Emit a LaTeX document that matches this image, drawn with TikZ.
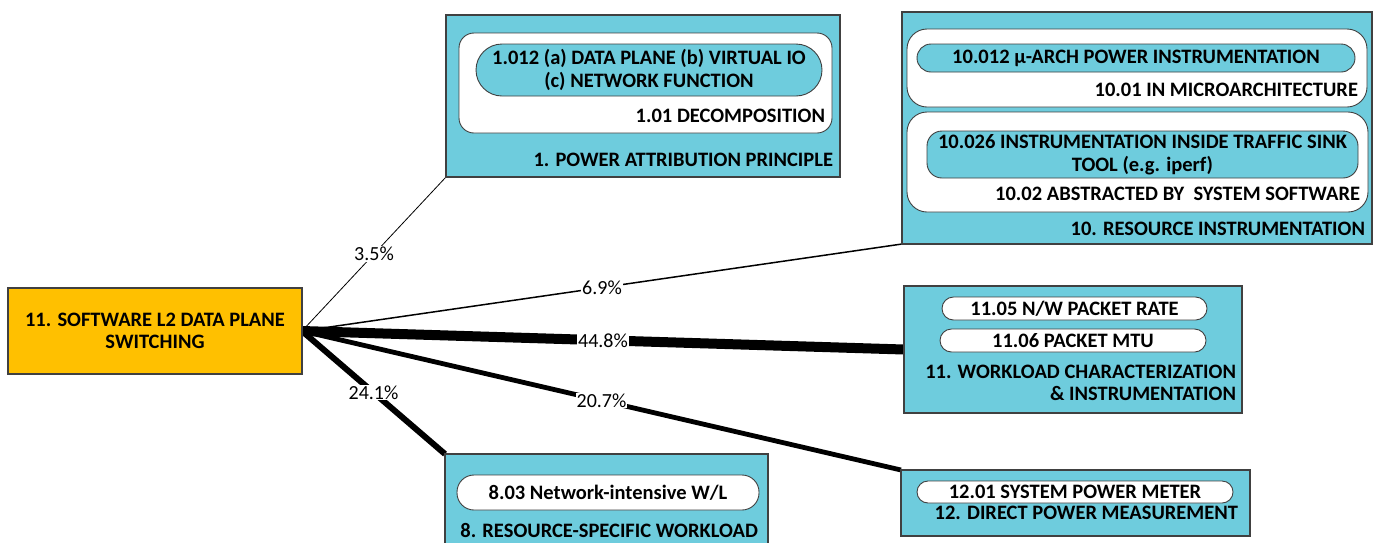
\documentclass[tikz,border=0pt]{standalone}
\usepackage{fontspec}
\setmainfont{Carlito}
\usetikzlibrary{backgrounds}
\definecolor{cy}{RGB}{110,204,221}
\definecolor{org}{RGB}{255,192,0}
\definecolor{bd}{RGB}{64,64,64}
\begin{document}
\begin{tikzpicture}[x=1pt,y=-1pt,
  every node/.style={inner sep=0pt, outer sep=0pt},
  bigbox/.style={draw=bd, line width=1.2pt, fill=cy, anchor=north west},
  obox/.style={draw=bd, line width=1.2pt, fill=org, anchor=north west, align=center,
    font=\fontsize{20.5}{21.5}\selectfont\bfseries},
  wbox/.style={draw=bd, line width=0.9pt, fill=white, anchor=north west},
  cpill/.style={draw=bd, line width=0.9pt, fill=cy, anchor=north west, align=center,
    font=\fontsize{20.5}{23}\selectfont\bfseries},
  wpill/.style={draw=bd, line width=0.9pt, fill=white, anchor=north west, align=center,
    font=\fontsize{20.5}{23}\selectfont\bfseries},
  lbl/.style={anchor=base east, font=\fontsize{20.5}{23}\selectfont\bfseries},
  pct/.style={fill=white, inner sep=1pt, font=\fontsize{20}{20}\selectfont},
]
\clip (0,0) rectangle (1381,542);
\useasboundingbox (0,0) rectangle (1381,542);

% source
\node[obox, minimum width=294pt, minimum height=86pt] (o) at (8,288) {11. SOFTWARE L2 DATA PLANE\\SWITCHING};

% box 1
\node[bigbox, minimum width=394pt, minimum height=162pt] (b1) at (446,15) {};
\node[wbox, rounded corners=15pt, minimum width=373pt, minimum height=100pt] (w1) at (459,33) {};
\node[cpill, rounded corners=26pt, minimum width=346pt, minimum height=52pt] (p1) at (476,44) {1.012 (a) DATA PLANE (b) VIRTUAL IO\\(c) NETWORK FUNCTION};
\node[lbl] (t1a) at (825,122) {1.01 DECOMPOSITION};
\node[lbl] (t1b) at (833,166) {1. POWER ATTRIBUTION PRINCIPLE};

% box 10
\node[bigbox, minimum width=470pt, minimum height=232pt] (b10) at (902,12) {};
\node[wbox, rounded corners=20pt, minimum width=460pt, minimum height=78pt] (w10a) at (907,29) {};
\node[cpill, rounded corners=14pt, minimum width=438pt, minimum height=28pt] (p10a) at (917,44) {10.012 μ-ARCH POWER INSTRUMENTATION};
\node[lbl] (t10a) at (1358,96) {10.01 IN MICROARCHITECTURE};
\node[wbox, rounded corners=20pt, minimum width=461pt, minimum height=100pt] (w10b) at (907,112) {};
\node[cpill, rounded corners=15pt, minimum width=431pt, minimum height=47pt] (p10b) at (927,131) {10.026 INSTRUMENTATION INSIDE TRAFFIC SINK\\TOOL (e.g. iperf)};
\node[lbl] (t10b) at (1360,200) {10.02 ABSTRACTED BY~ SYSTEM SOFTWARE};
\node[lbl] (t10c) at (1365,235) {10. RESOURCE INSTRUMENTATION};

% box 11
\node[bigbox, minimum width=338pt, minimum height=127pt] (b11) at (904,286) {};
\node[wpill, rounded corners=11.5pt, minimum width=265pt, minimum height=23pt] (p11a) at (942,297) {11.05 N/W PACKET RATE};
\node[wpill, rounded corners=11.5pt, minimum width=266pt, minimum height=23pt] (p11b) at (940,329) {11.06 PACKET MTU};
\node[lbl] (t11a) at (1236,378) {11. WORKLOAD CHARACTERIZATION};
\node[lbl] (t11b) at (1236,400) {\& INSTRUMENTATION};

% box 8
\node[bigbox, minimum width=323pt, minimum height=110pt] (b8) at (445,454) {};
\node[wpill, rounded corners=17pt, minimum width=302pt, minimum height=35pt] (p8) at (457,475) {8.03 Network-intensive W/L};
\node[lbl] (t8) at (758,537) {8. RESOURCE-SPECIFIC WORKLOAD};

% box 12
\node[bigbox, minimum width=349pt, minimum height=66pt] (b12) at (901,470) {};
\node[wpill, rounded corners=11pt, minimum width=316pt, minimum height=22pt] (p12) at (917,481) {12.01 SYSTEM POWER METER};
\node[lbl] (t12) at (1238,519) {12. DIRECT POWER MEASUREMENT};

% connectors
\begin{scope}[on background layer]
\fill[white] (0,0) rectangle (1381,542);
\draw[line width=0.8pt] (o.east) -- node[pct]{3.5\%} (b1.south west);
\draw[line width=1.5pt] (o.east) -- node[pct]{6.9\%} (b10.south west);
\draw[line width=10pt] (o.east) -- node[pct]{44.8\%} (b11.west);
\draw[line width=4.8pt] (o.east) -- node[pct]{20.7\%} (b12.north west);
\draw[line width=6pt] (o.east) -- node[pct]{24.1\%} (b8.north west);
\end{scope}
\end{tikzpicture}
\end{document}
